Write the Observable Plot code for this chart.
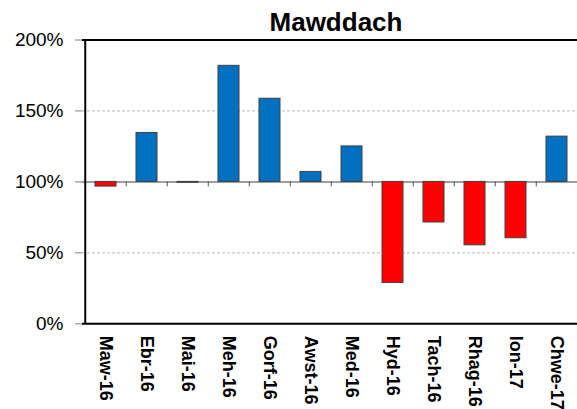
<!DOCTYPE html>
<html>
<head>
<meta charset="utf-8">
<script src="https://cdn.jsdelivr.net/npm/d3@7"></script>
<script src="https://cdn.jsdelivr.net/npm/@observablehq/plot@0.6"></script>
<style>
  html, body { margin: 0; padding: 0; background: white; overflow: hidden; }
  #wrap { position: relative; width: 577px; height: 409px; overflow: hidden; }
  #title { position: absolute; left: 236px; width: 200px; top: 9px; text-align: center;
           font: bold 26px "Liberation Sans", Arial, sans-serif; line-height: 26px; color: #000; }
</style>
</head>
<body>
<div id="wrap"><div id="chart"></div><div id="title">Mawddach</div></div>
<script>
const months = ["Maw-16","Ebr-16","Mai-16","Meh-16","Gorf-16","Awst-16","Med-16","Hyd-16","Tach-16","Rhag-16","Ion-17","Chwe-17"];
const values = [96.7, 134.5, 99.4, 181.8, 158.6, 107, 125, 28.8, 71.4, 55.3, 60.3, 131.9];
const yTicks = [0, 50, 100, 150, 200];
const baseline = 100;
const gridValues = [50, 150];
const borderValues = [0, 200];

const data = months.map((m, i) => ({month: m, value: values[i]}));
const xRange = [82, 580];
const step = (xRange[1] - xRange[0]) / months.length;
const font = '"Liberation Sans", Arial, sans-serif';

const chart = Plot.plot({
  width: 577,
  height: 409,
  marginLeft: 82,
  marginRight: 0,
  marginTop: 40,
  marginBottom: 86,
  style: {fontFamily: font, background: "white", color: "black"},
  x: {domain: months, range: xRange, paddingInner: 0.5, paddingOuter: 0.25, axis: null},
  y: {domain: [0, 200], range: [323.3, 39.5], axis: null},
  color: {type: "identity"},
  marks: [
    Plot.ruleY(gridValues, {stroke: "#b8b8b8", strokeWidth: 1, strokeDasharray: "3,2"}),
    Plot.ruleY([baseline], {stroke: "#7f7f7f", strokeWidth: 1.5}),
    Plot.ruleX(months.slice(1), {x: d => d, y1: baseline, y2: baseline, insetBottom: -5, dx: -step / 2, stroke: "#555", strokeWidth: 1}),
    Plot.barY(data, {x: "month", y1: baseline, y2: "value",
      fill: d => d.value >= baseline ? "#0070C0" : "#FF0000",
      stroke: "#404040", strokeWidth: 1}),
    Plot.ruleY(borderValues, {stroke: "black", strokeWidth: 2}),
    Plot.ruleX(months.slice(0, 1), {x: d => d, y1: 0, y2: 200, dx: -step / 2, stroke: "black", strokeWidth: 2}),
    Plot.axisY(yTicks, {tickFormat: d => d + "%", tickSize: 7, tickPadding: 12, fontSize: 19,
      stroke: "#808080", fill: "black", label: null}),
    Plot.text(months, {x: d => d, y: 0, text: d => d, rotate: 90, textAnchor: "start",
      lineAnchor: "middle", dy: 12, fontSize: 18, fontWeight: "bold", fill: "black"})
  ]
});
document.getElementById("chart").appendChild(chart);
</script>
</body>
</html>
